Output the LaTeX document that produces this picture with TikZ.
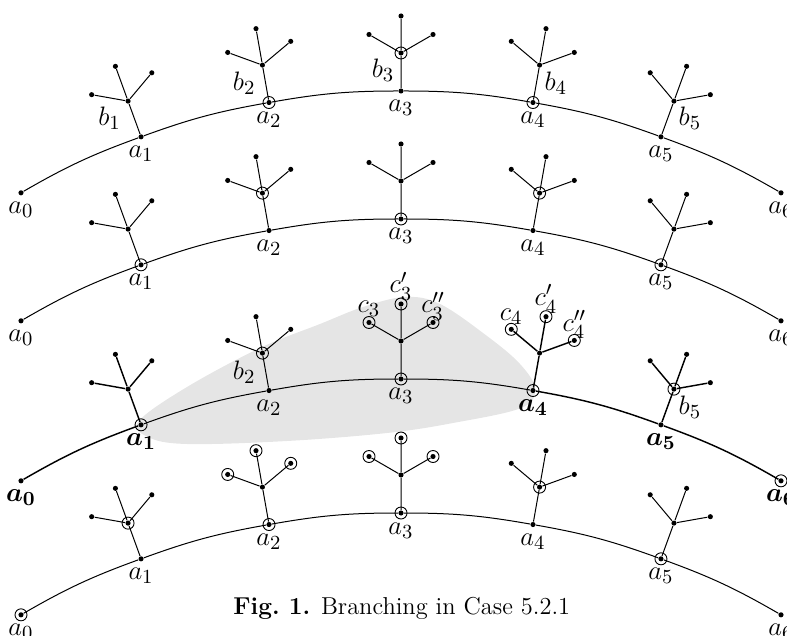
\documentclass[tikz,border=0pt]{standalone}
\usepackage{amsmath}
\usetikzlibrary{calc}
\tikzset{
  dot/.style={circle,fill=black,inner sep=0pt,minimum size=2.3pt},
  lab/.style={anchor=base,inner sep=0pt,font=\fontsize{13}{15}\selectfont},
  thin edge/.style={line width=0.45pt},
  bold edge/.style={line width=0.65pt},
  ringline/.style={line width=0.4pt},
  shade/.style={fill=gray!20},
}
\newcommand{\ringat}[1]{\draw[ringline] (#1) circle[radius=6];}
\newcommand{\mkrow}[2]{%
  \coordinate (#1C) at (401,#2);
  \foreach \i in {0,...,6}{\node[dot] (#1a\i) at ($(#1C)+({120-10*\i}:760)$) {};}
}
\newcommand{\mktree}[2]{%
  \pgfmathsetmacro\tang{30-10*#2}
  \begin{scope}[shift={(#1a#2)}, rotate=\tang]
    \node[dot] (#1b#2) at (0,38) {};
    \node[dot] (#1l#2) at (-32,56.5) {};
    \node[dot] (#1m#2) at (0,75) {};
    \node[dot] (#1r#2) at (32,56.5) {};
  \end{scope}
}
\newcommand{\treeedges}[3]{%
  \draw[#3] (#1a#2) -- (#1b#2) (#1b#2) -- (#1l#2) (#1b#2) -- (#1m#2) (#1b#2) -- (#1r#2);
}
\newcommand{\arcseg}[4]{\draw[#4] (#1a#2) to[bend left=5] (#1a#3);}
\newcommand{\alabels}[1]{%
  \foreach \i in {0,...,6}{\node[lab] (#1la\i) at ($(#1a\i)+(0,-21)$) {$a_{\i}$};}
}
\begin{document}
\begin{tikzpicture}[x=0.45pt,y=0.45pt]
\useasboundingbox (0,0) rectangle (787,635);
% shaded region
\fill[shade] plot[smooth cycle, tension=0.6] coordinates {
 (139,214) (187,248) (260,287) (320,311) (363,328) (405,338) (440,331)
 (487,299) (520,271) (535,246) (521,227) (453,212) (387,202) (287,194)
 (187,191) (148,198)};
% rows
\mkrow{p}{-216}
\mkrow{q}{-344}
\mkrow{r}{-504}
\mkrow{s}{-638}
\foreach \R in {p,q,r,s}{\foreach \k in {1,...,5}{\mktree{\R}{\k}}}
% row 1 edges
\foreach \k/\l in {0/1,1/2,2/3,3/4,4/5,5/6}{\arcseg{p}{\k}{\l}{thin edge}}
\foreach \k in {1,...,5}{\treeedges{p}{\k}{thin edge}}
% row 2 edges
\foreach \k/\l in {0/1,1/2,2/3,3/4,4/5,5/6}{\arcseg{q}{\k}{\l}{thin edge}}
\foreach \k in {1,...,5}{\treeedges{q}{\k}{thin edge}}
% row 3 edges
\arcseg{r}{0}{1}{bold edge}
\foreach \k/\l in {1/2,2/3,3/4}{\arcseg{r}{\k}{\l}{thin edge}}
\arcseg{r}{4}{5}{bold edge}
\arcseg{r}{5}{6}{bold edge}
\treeedges{r}{1}{bold edge}
\treeedges{r}{2}{thin edge}
\treeedges{r}{3}{thin edge}
\treeedges{r}{4}{bold edge}
\treeedges{r}{5}{bold edge}
% row 4 edges
\foreach \k/\l in {0/1,1/2,2/3,3/4,4/5,5/6}{\arcseg{s}{\k}{\l}{thin edge}}
\foreach \k in {1,...,5}{\treeedges{s}{\k}{thin edge}}
% rings
\ringat{pa2}\ringat{pb3}\ringat{pa4}
\ringat{qa1}\ringat{qb2}\ringat{qa3}\ringat{qb4}\ringat{qa5}
\ringat{ra1}\ringat{rb2}\ringat{ra3}\ringat{rl3}\ringat{rm3}\ringat{rr3}
\ringat{ra4}\ringat{rl4}\ringat{rm4}\ringat{rr4}\ringat{rb5}\ringat{ra6}
\ringat{sa0}\ringat{sb1}\ringat{sa2}\ringat{sl2}\ringat{sm2}\ringat{sr2}
\ringat{sa3}\ringat{sl3}\ringat{sm3}\ringat{sr3}\ringat{sb4}\ringat{sa5}
% labels
\alabels{p}
\alabels{q}
\alabels{s}
\node[lab] (rla0) at ($(ra0)+(0,-21)$) {$\boldsymbol{a_0}$};
\node[lab] (rla1) at ($(ra1)+(0,-21)$) {$\boldsymbol{a_1}$};
\node[lab] (rla2) at ($(ra2)+(0,-21)$) {$a_2$};
\node[lab] (rla3) at ($(ra3)+(0,-21)$) {$a_3$};
\node[lab] (rla4) at ($(ra4)+(0,-21)$) {$\boldsymbol{a_4}$};
\node[lab] (rla5) at ($(ra5)+(0,-21)$) {$\boldsymbol{a_5}$};
\node[lab] (rla6) at ($(ra6)+(0,-21)$) {$\boldsymbol{a_6}$};
\node[lab] (plb1) at ($(pa1)!0.5!(pb1)+(-25,-7)$) {$b_1$};
\node[lab] (plb2) at ($(pa2)!0.5!(pb2)+(-21.5,-6.5)$) {$b_2$};
\node[lab] (plb3) at ($(pa3)!0.5!(pb3)+(-18,-5.5)$) {$b_3$};
\node[lab] (plb4) at ($(pa4)!0.5!(pb4)+(19.5,-7)$) {$b_4$};
\node[lab] (plb5) at ($(pa5)!0.5!(pb5)+(22.5,-7)$) {$b_5$};
\node[lab] (rlb2) at ($(ra2)!0.5!(rb2)+(-21.5,-8)$) {$b_2$};
\node[lab] (rlb5) at ($(ra5)!0.5!(rb5)+(22.5,-8)$) {$b_5$};
\node[lab] (rlc3) at ($(rl3)+(0,10)$) {$c_3$};
\node[lab] (rlc3p) at ($(rm3)+(0,11)$) {$c'_3$};
\node[lab] (rlc3pp) at ($(rr3)+(0,9.5)$) {$c''_3$};
\node[lab] (rlc4) at ($(rl4)+(0,9)$) {$c_4$};
\node[lab] (rlc4p) at ($(rm4)+(0,11)$) {$c'_4$};
\node[lab] (rlc4pp) at ($(rr4)+(0,9)$) {$c''_4$};
% caption
\node[anchor=base west,inner sep=0pt,font=\fontsize{11}{13}\selectfont] (cap) at (233,21) {\textbf{Fig.\ 1.} Branching in Case 5.2.1};
\end{tikzpicture}
\end{document}
